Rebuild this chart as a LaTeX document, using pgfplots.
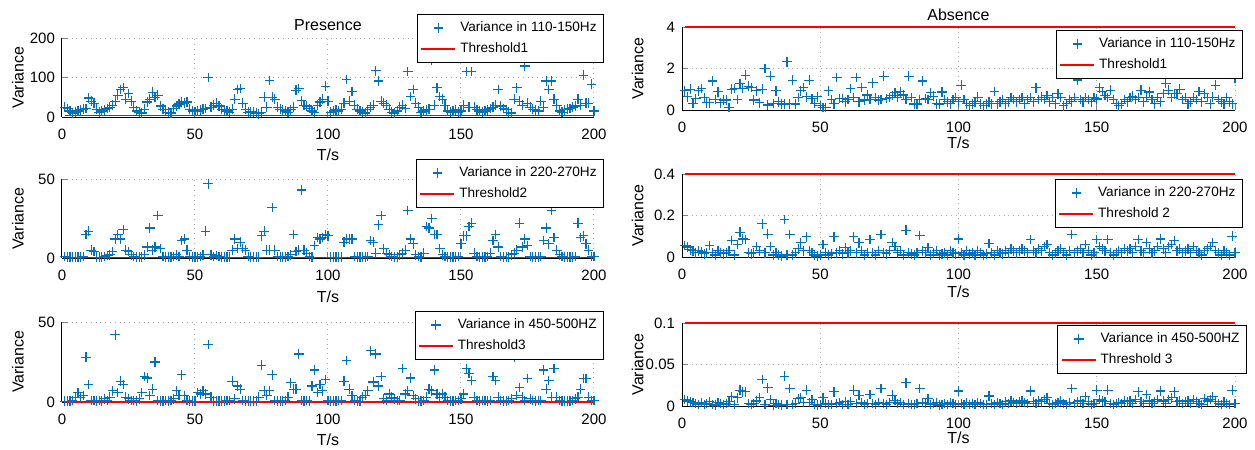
\documentclass[border=0pt]{standalone}
\usepackage{fontspec}
\setmainfont{Liberation Sans}
\usepackage{xcolor}
\usepackage{pgfplots}
\usepackage{pgfplotstable}
\pgfplotsset{compat=1.18}

\definecolor{matblue}{RGB}{0,114,189}
\definecolor{gridc}{RGB}{170,170,170}

% presence, 110-150Hz
\pgfplotstableread[row sep=\\]{y\\
25\\ 22\\ 15\\ 10\\ 12\\ 15\\ 18\\ 20\\ 22\\ 48\\ 40\\ 35\\ 20\\ 12\\ 15\\ 18\\ 22\\ 25\\ 30\\ 40\\
55\\ 70\\ 75\\ 45\\ 60\\ 40\\ 25\\ 15\\ 12\\ 10\\ 20\\ 38\\ 45\\ 63\\ 50\\ 55\\ 28\\ 20\\ 18\\ 12\\
10\\ 22\\ 28\\ 33\\ 38\\ 35\\ 38\\ 20\\ 15\\ 14\\ 15\\ 18\\ 20\\ 22\\ 100\\ 25\\ 30\\ 35\\ 28\\ 20\\
18\\ 15\\ 12\\ 20\\ 45\\ 70\\ 72\\ 35\\ 20\\ 12\\ 13\\ 12\\ 10\\ 8\\ 12\\ 50\\ 25\\ 92\\ 50\\ 45\\
25\\ 20\\ 18\\ 15\\ 12\\ 18\\ 25\\ 68\\ 72\\ 42\\ 30\\ 28\\ 22\\ 15\\ 12\\ 30\\ 38\\ 45\\ 78\\ 40\\
12\\ 15\\ 18\\ 15\\ 20\\ 35\\ 95\\ 40\\ 65\\ 30\\ 20\\ 15\\ 12\\ 10\\ 18\\ 25\\ 30\\ 117\\ 91\\ 40\\
35\\ 30\\ 20\\ 12\\ 10\\ 15\\ 25\\ 30\\ 22\\ 115\\ 52\\ 70\\ 35\\ 25\\ 12\\ 15\\ 18\\ 20\\ 145\\ 30\\
74\\ 52\\ 45\\ 30\\ 15\\ 12\\ 15\\ 18\\ 12\\ 15\\ 30\\ 115\\ 25\\ 115\\ 25\\ 18\\ 15\\ 12\\ 15\\ 18\\
22\\ 25\\ 30\\ 70\\ 28\\ 22\\ 18\\ 12\\ 10\\ 45\\ 74\\ 40\\ 30\\ 129\\ 35\\ 25\\ 20\\ 18\\ 15\\ 40\\
25\\ 91\\ 70\\ 91\\ 45\\ 30\\ 15\\ 12\\ 18\\ 20\\ 22\\ 25\\ 28\\ 45\\ 30\\ 106\\ 35\\ 35\\ 83\\ 15\\
}\tabLA

% presence, 220-270Hz
\pgfplotstableread[row sep=\\]{y\\
1\\ 0.5\\ 0.5\\ 0.5\\ 0.5\\ 0.5\\ 0.5\\ 1\\ 15\\ 17\\ 5\\ 4\\ 0.5\\ 0.5\\ 0.5\\ 1\\ 1.5\\ 2\\ 4\\ 12\\
15\\ 12\\ 18\\ 5\\ 4\\ 2\\ 1\\ 0.5\\ 0.5\\ 0.5\\ 2\\ 7\\ 19\\ 5\\ 7\\ 27\\ 6\\ 1\\ 0.5\\ 0.5\\
0.5\\ 1\\ 2\\ 1\\ 11\\ 12\\ 5\\ 1\\ 0.5\\ 0.5\\ 0.5\\ 1\\ 2\\ 17\\ 47\\ 2\\ 1\\ 1.5\\ 1\\ 0.5\\
0.5\\ 0.5\\ 0.5\\ 5\\ 12\\ 6\\ 10\\ 6\\ 5\\ 1\\ 0.5\\ 0.5\\ 0.5\\ 0.5\\ 14\\ 17\\ 5\\ 5\\ 32\\ 5\\
1\\ 0.5\\ 0.5\\ 0.5\\ 1\\ 2\\ 15\\ 4\\ 5\\ 43\\ 5\\ 3\\ 1\\ 0.5\\ 8\\ 13\\ 12\\ 13\\ 15\\ 14\\
0.5\\ 0.5\\ 0.5\\ 0.5\\ 0.5\\ 10\\ 12\\ 12\\ 12\\ 1\\ 0.5\\ 0.5\\ 0.5\\ 0.5\\ 1\\ 11\\ 10\\ 3\\ 21\\ 27\\
6\\ 3\\ 2\\ 1\\ 0.5\\ 0.5\\ 2\\ 3\\ 5\\ 30\\ 12\\ 9\\ 2\\ 1\\ 0.5\\ 3\\ 20\\ 19\\ 25\\ 15\\
15\\ 6\\ 2\\ 1\\ 0.5\\ 0.5\\ 0.5\\ 0.5\\ 1\\ 9\\ 14\\ 14\\ 20\\ 22\\ 3\\ 1\\ 0.5\\ 0.5\\ 0.5\\ 1\\
3\\ 11\\ 15\\ 7\\ 1\\ 0.5\\ 0.5\\ 0.5\\ 2\\ 3\\ 5\\ 22\\ 7\\ 12\\ 8\\ 1\\ 0.5\\ 0.5\\ 0.5\\ 1\\
11\\ 19\\ 9\\ 30\\ 13\\ 5\\ 2\\ 1\\ 0.5\\ 0.5\\ 0.5\\ 0.5\\ 1\\ 22\\ 13\\ 14\\ 9\\ 5\\ 1\\ 1\\
}\tabLB

% presence, 450-500HZ
\pgfplotstableread[row sep=\\]{y\\
0.5\\ 0.5\\ 0.5\\ 1\\ 3\\ 6\\ 3\\ 4\\ 28\\ 11\\ 1\\ 1\\ 0.5\\ 1\\ 0.5\\ 2\\ 1\\ 3\\ 7\\ 42\\
6\\ 13\\ 11\\ 3\\ 2\\ 1\\ 1\\ 0.5\\ 2\\ 6\\ 16\\ 15\\ 4\\ 8\\ 25\\ 1\\ 0.5\\ 0.5\\ 1\\ 0.5\\
1\\ 2\\ 7\\ 4\\ 17\\ 4\\ 1\\ 0.5\\ 0.5\\ 0.5\\ 6\\ 5\\ 7\\ 5\\ 36\\ 3\\ 0.5\\ 0.5\\ 0.5\\ 0.5\\
0.5\\ 1\\ 1\\ 13\\ 2\\ 10\\ 8\\ 1\\ 0.5\\ 0.5\\ 0.5\\ 0.5\\ 0.5\\ 3\\ 23\\ 7\\ 4\\ 7\\ 17\\ 1\\
0.5\\ 0.5\\ 0.5\\ 1\\ 3\\ 12\\ 8\\ 8\\ 30\\ 1\\ 0.5\\ 1\\ 0.5\\ 10\\ 20\\ 6\\ 11\\ 7\\ 14\\ 1\\
0.5\\ 0.5\\ 0.5\\ 1\\ 1\\ 13\\ 26\\ 8\\ 4\\ 1\\ 0.5\\ 0.5\\ 3\\ 4\\ 7\\ 32\\ 12.5\\ 30\\ 10\\ 16\\
2\\ 1\\ 5\\ 3\\ 2\\ 1\\ 1\\ 21\\ 5\\ 7\\ 15\\ 4\\ 2\\ 0.5\\ 0.5\\ 1\\ 3\\ 8\\ 7\\ 20\\
5\\ 3\\ 5\\ 3\\ 1\\ 0.5\\ 0.5\\ 1\\ 1\\ 2\\ 5\\ 21\\ 18\\ 13.5\\ 3\\ 1\\ 0.5\\ 1\\ 1\\ 0.5\\
1\\ 16\\ 13.5\\ 3\\ 1\\ 0.5\\ 0.5\\ 1\\ 2\\ 28\\ 4\\ 9\\ 3\\ 1\\ 14.6\\ 2\\ 1\\ 0.5\\ 1\\ 1\\
20\\ 8\\ 13.5\\ 3\\ 21\\ 3\\ 1\\ 0.5\\ 0.5\\ 0.5\\ 0.5\\ 1\\ 2\\ 3\\ 8\\ 14.6\\ 14.6\\ 3\\ 1\\ 1\\
}\tabLC

% absence, 110-150Hz
\pgfplotstableread[row sep=\\]{y\\
0.93\\ 0.64\\ 1.0\\ 0.32\\ 0.56\\ 0.93\\ 1.04\\ 0.6\\ 0.35\\ 0.35\\ 1.4\\ 0.5\\ 0.88\\ 0.35\\ 0.48\\ 0.48\\ 0.13\\ 1.0\\ 1.04\\ 0.5\\
1.28\\ 1.04\\ 1.68\\ 1.15\\ 1.09\\ 0.48\\ 0.93\\ 0.35\\ 1.0\\ 2.0\\ 0.24\\ 1.63\\ 0.32\\ 0.93\\ 0.4\\ 0.29\\ 0.29\\ 2.32\\ 0.3\\ 1.44\\
0.29\\ 0.6\\ 0.93\\ 1.09\\ 0.64\\ 1.44\\ 0.56\\ 0.32\\ 0.64\\ 0.2\\ 0.13\\ 0.13\\ 0.93\\ 0.51\\ 0.3\\ 1.57\\ 0.56\\ 0.56\\ 0.4\\ 0.51\\
1.04\\ 0.6\\ 1.57\\ 0.4\\ 1.09\\ 0.48\\ 0.72\\ 0.5\\ 1.31\\ 0.6\\ 0.48\\ 0.5\\ 1.63\\ 0.56\\ 0.6\\ 0.7\\ 0.83\\ 0.6\\ 0.88\\ 0.72\\
0.5\\ 1.63\\ 0.6\\ 0.29\\ 0.29\\ 0.5\\ 1.4\\ 0.56\\ 0.5\\ 0.83\\ 0.67\\ 0.3\\ 0.29\\ 0.87\\ 0.5\\ 0.4\\ 0.3\\ 0.5\\ 0.6\\ 0.4\\
1.2\\ 0.5\\ 0.3\\ 0.2\\ 0.3\\ 0.4\\ 0.62\\ 0.3\\ 0.2\\ 0.3\\ 0.4\\ 0.3\\ 0.9\\ 0.3\\ 0.4\\ 0.5\\ 0.3\\ 0.4\\ 0.6\\ 0.5\\
0.4\\ 0.5\\ 0.6\\ 0.3\\ 0.5\\ 0.6\\ 0.4\\ 1.07\\ 0.5\\ 0.62\\ 0.5\\ 0.7\\ 0.4\\ 0.6\\ 0.3\\ 0.78\\ 0.6\\ 0.2\\ 0.3\\ 0.5\\
0.4\\ 0.6\\ 1.45\\ 0.5\\ 0.4\\ 0.6\\ 0.5\\ 0.4\\ 0.6\\ 0.53\\ 1.07\\ 0.9\\ 0.7\\ 0.6\\ 0.95\\ 0.5\\ 0.3\\ 0.2\\ 0.3\\ 0.5\\
0.4\\ 0.6\\ 0.67\\ 0.5\\ 0.6\\ 0.95\\ 0.4\\ 0.6\\ 0.87\\ 0.5\\ 0.3\\ 0.6\\ 0.4\\ 0.8\\ 1.28\\ 0.95\\ 0.6\\ 0.78\\ 0.78\\ 1.0\\
0.5\\ 0.6\\ 0.3\\ 0.4\\ 0.6\\ 0.5\\ 0.9\\ 0.4\\ 0.78\\ 0.6\\ 0.3\\ 0.62\\ 1.2\\ 0.5\\ 0.4\\ 0.3\\ 0.6\\ 0.4\\ 0.3\\ 1.53\\
}\tabRA

% absence, 220-270Hz
\pgfplotstableread[row sep=\\]{y\\
0.056\\ 0.048\\ 0.035\\ 0.03\\ 0.02\\ 0.03\\ 0.025\\ 0.015\\ 0.02\\ 0.055\\ 0.02\\ 0.01\\ 0.03\\ 0.02\\ 0.015\\ 0.02\\ 0.03\\ 0.08\\ 0.01\\ 0.06\\
0.12\\ 0.087\\ 0.084\\ 0.02\\ 0.015\\ 0.02\\ 0.05\\ 0.03\\ 0.16\\ 0.02\\ 0.11\\ 0.05\\ 0.01\\ 0.02\\ 0.01\\ 0.005\\ 0.18\\ 0.01\\ 0.108\\ 0.01\\
0.02\\ 0.04\\ 0.068\\ 0.03\\ 0.097\\ 0.03\\ 0.02\\ 0.01\\ 0.005\\ 0.01\\ 0.06\\ 0.02\\ 0.01\\ 0.015\\ 0.097\\ 0.02\\ 0.03\\ 0.015\\ 0.044\\ 0.02\\
0.03\\ 0.097\\ 0.02\\ 0.068\\ 0.03\\ 0.01\\ 0.02\\ 0.084\\ 0.02\\ 0.01\\ 0.03\\ 0.108\\ 0.02\\ 0.015\\ 0.03\\ 0.07\\ 0.05\\ 0.02\\ 0.03\\ 0.01\\
0.129\\ 0.02\\ 0.015\\ 0.01\\ 0.02\\ 0.103\\ 0.03\\ 0.02\\ 0.044\\ 0.01\\ 0.02\\ 0.03\\ 0.01\\ 0.015\\ 0.02\\ 0.01\\ 0.03\\ 0.02\\ 0.015\\ 0.087\\
0.02\\ 0.01\\ 0.03\\ 0.015\\ 0.02\\ 0.01\\ 0.03\\ 0.02\\ 0.01\\ 0.015\\ 0.065\\ 0.02\\ 0.01\\ 0.03\\ 0.02\\ 0.015\\ 0.03\\ 0.02\\ 0.04\\ 0.03\\
0.02\\ 0.03\\ 0.04\\ 0.03\\ 0.02\\ 0.084\\ 0.03\\ 0.02\\ 0.04\\ 0.03\\ 0.05\\ 0.06\\ 0.02\\ 0.01\\ 0.02\\ 0.03\\ 0.04\\ 0.02\\ 0.01\\ 0.03\\
0.108\\ 0.02\\ 0.03\\ 0.04\\ 0.02\\ 0.06\\ 0.03\\ 0.01\\ 0.02\\ 0.084\\ 0.05\\ 0.04\\ 0.03\\ 0.084\\ 0.02\\ 0.01\\ 0.02\\ 0.03\\ 0.02\\ 0.04\\
0.03\\ 0.04\\ 0.02\\ 0.05\\ 0.084\\ 0.03\\ 0.02\\ 0.07\\ 0.04\\ 0.02\\ 0.03\\ 0.05\\ 0.087\\ 0.04\\ 0.02\\ 0.05\\ 0.06\\ 0.08\\ 0.03\\ 0.04\\
0.02\\ 0.03\\ 0.04\\ 0.02\\ 0.05\\ 0.03\\ 0.02\\ 0.01\\ 0.03\\ 0.04\\ 0.05\\ 0.07\\ 0.03\\ 0.02\\ 0.01\\ 0.03\\ 0.02\\ 0.01\\ 0.1\\ 0.02\\
}\tabRB

% absence, 450-500HZ
\pgfplotstableread[row sep=\\]{y\\
0.008\\ 0.006\\ 0.005\\ 0.004\\ 0.003\\ 0.002\\ 0.004\\ 0.002\\ 0.003\\ 0.005\\ 0.002\\ 0.001\\ 0.004\\ 0.003\\ 0.002\\ 0.003\\ 0.005\\ 0.011\\ 0.002\\ 0.01\\
0.019\\ 0.017\\ 0.017\\ 0.003\\ 0.002\\ 0.003\\ 0.006\\ 0.01\\ 0.032\\ 0.002\\ 0.022\\ 0.008\\ 0.001\\ 0.003\\ 0.002\\ 0.001\\ 0.036\\ 0.002\\ 0.021\\ 0.002\\
0.003\\ 0.009\\ 0.01\\ 0.004\\ 0.019\\ 0.004\\ 0.008\\ 0.002\\ 0.001\\ 0.002\\ 0.01\\ 0.003\\ 0.002\\ 0.002\\ 0.017\\ 0.003\\ 0.004\\ 0.002\\ 0.005\\ 0.002\\
0.005\\ 0.019\\ 0.003\\ 0.013\\ 0.004\\ 0.002\\ 0.003\\ 0.014\\ 0.003\\ 0.002\\ 0.004\\ 0.021\\ 0.003\\ 0.002\\ 0.004\\ 0.013\\ 0.007\\ 0.003\\ 0.004\\ 0.002\\
0.028\\ 0.003\\ 0.002\\ 0.002\\ 0.003\\ 0.021\\ 0.004\\ 0.003\\ 0.009\\ 0.002\\ 0.003\\ 0.004\\ 0.001\\ 0.002\\ 0.003\\ 0.002\\ 0.004\\ 0.003\\ 0.002\\ 0.018\\
0.003\\ 0.002\\ 0.004\\ 0.002\\ 0.003\\ 0.002\\ 0.004\\ 0.003\\ 0.002\\ 0.002\\ 0.012\\ 0.003\\ 0.002\\ 0.004\\ 0.003\\ 0.002\\ 0.005\\ 0.003\\ 0.006\\ 0.004\\
0.003\\ 0.005\\ 0.006\\ 0.004\\ 0.003\\ 0.018\\ 0.005\\ 0.003\\ 0.006\\ 0.005\\ 0.008\\ 0.01\\ 0.003\\ 0.002\\ 0.003\\ 0.004\\ 0.006\\ 0.003\\ 0.002\\ 0.004\\
0.021\\ 0.003\\ 0.005\\ 0.006\\ 0.003\\ 0.011\\ 0.005\\ 0.002\\ 0.003\\ 0.019\\ 0.008\\ 0.006\\ 0.005\\ 0.019\\ 0.003\\ 0.002\\ 0.003\\ 0.004\\ 0.003\\ 0.006\\
0.005\\ 0.006\\ 0.003\\ 0.008\\ 0.017\\ 0.005\\ 0.003\\ 0.014\\ 0.006\\ 0.003\\ 0.005\\ 0.008\\ 0.018\\ 0.006\\ 0.003\\ 0.008\\ 0.01\\ 0.017\\ 0.005\\ 0.006\\
0.003\\ 0.005\\ 0.006\\ 0.003\\ 0.008\\ 0.005\\ 0.003\\ 0.002\\ 0.009\\ 0.006\\ 0.008\\ 0.011\\ 0.005\\ 0.003\\ 0.002\\ 0.005\\ 0.003\\ 0.002\\ 0.019\\ 0.003\\
}\tabRC

\pgfplotsset{
  every axis title shift=0pt,
  panel/.style={
    scale only axis,
    anchor=south west,
    xmin=0, xmax=200,
    xtick={0,50,100,150,200},
    axis x line*=bottom,
    axis y line*=left,
    axis line style={-, line width=0.5pt},
    tick align=inside,
    major tick length=3pt,
    tick style={line width=0.5pt},
    grid=major,
    grid style={dotted, gridc, line width=0.5pt},
    ticklabel style={font=\fontsize{7.5}{8}\selectfont},
    xticklabel style={yshift=-2.5pt},
    /pgf/number format/assume math mode=true,
    label style={font=\fontsize{8}{9}\selectfont},
    title style={font=\fontsize{8}{9}\selectfont},
    xlabel={T/s},
    ylabel={Variance},
    legend cell align=left,
    legend style={font=\fontsize{6.8}{8}\selectfont, line width=0.5pt,
      inner sep=1.5pt, anchor=north east},
    clip=false,
  },
  leftp/.style={panel, width=266pt,
    ylabel style={at={(axis description cs:-0.083,0.5)}, anchor=center}},
  rightp/.style={panel, width=276.5pt,
    ylabel style={at={(axis description cs:-0.080,0.5)}, anchor=center}},
  pts/.style={only marks, mark=+, mark size=2.4pt, color=matblue,
    mark options={line width=0.6pt}},
  thr/.style={color=red, line width=0.8pt},
}

\begin{document}
\begin{tikzpicture}
\useasboundingbox (0,0) rectangle (627.5pt,-225pt);

% ---- left column: presence ----
\begin{axis}[leftp, at={(31pt,-58.5pt)}, height=39.5pt,
  ymin=0, ymax=200, ytick={0,100,200},
  title={Presence}, title style={at={(axis description cs:0.5,1.165)}, anchor=center},
  xlabel style={at={(axis description cs:0.5,-0.48)}, anchor=center},
  legend style={at={(axis description cs:1.019,1.304)}}]
\addplot[pts] table[x expr=\coordindex+1, y=y] {\tabLA};
\addplot[thr] coordinates {(1,4) (200,4)};
\legend{Variance in 110-150Hz, Threshold1}
\end{axis}

\begin{axis}[leftp, at={(31pt,-129pt)}, height=39.5pt,
  ymin=0, ymax=50, ytick={0,50},
  xlabel style={at={(axis description cs:0.5,-0.49)}, anchor=center},
  legend style={at={(axis description cs:1.019,1.253)}}]
\addplot[pts] table[x expr=\coordindex+1, y=y] {\tabLB};
\addplot[thr] coordinates {(1,0.4) (200,0.4)};
\legend{Variance in 220-270Hz, Threshold2}
\end{axis}

\begin{axis}[leftp, at={(31pt,-201pt)}, height=40pt,
  ymin=0, ymax=50, ytick={0,50},
  xlabel style={at={(axis description cs:0.5,-0.475)}, anchor=center},
  legend style={at={(axis description cs:1.019,1.1375)}}]
\addplot[pts] table[x expr=\coordindex+1, y=y] {\tabLC};
\addplot[thr] coordinates {(1,0.1) (200,0.1)};
\legend{Variance in 450-500HZ, Threshold3}
\end{axis}

% ---- right column: absence ----
\begin{axis}[rightp, at={(341pt,-55pt)}, height=41.5pt,
  ymin=0, ymax=4, ytick={0,2,4},
  title={Absence}, title style={at={(axis description cs:0.5,1.145)}, anchor=center},
  xlabel style={at={(axis description cs:0.5,-0.40)}, anchor=center},
  legend style={at={(axis description cs:1.0145,0.964)}}]
\addplot[pts] table[x expr=\coordindex+1, y=y] {\tabRA};
\addplot[thr] coordinates {(1,4) (200,4)};
\legend{Variance in 110-150Hz, Threshold1}
\end{axis}

\begin{axis}[rightp, at={(341pt,-128.5pt)}, height=41.5pt,
  ymin=0, ymax=0.4, ytick={0,0.2,0.4},
  xlabel style={at={(axis description cs:0.5,-0.42)}, anchor=center},
  legend style={at={(axis description cs:1.0145,0.940)}}]
\addplot[pts] table[x expr=\coordindex+1, y=y] {\tabRB};
\addplot[thr] coordinates {(1,0.4) (200,0.4)};
\legend{Variance in 220-270Hz, Threshold 2}
\end{axis}

\begin{axis}[rightp, at={(341pt,-203pt)}, height=41.5pt,
  ymin=0, ymax=0.1, ytick={0,0.05,0.1},
  yticklabel style={/pgf/number format/fixed},
  xlabel style={at={(axis description cs:0.5,-0.386)}, anchor=center},
  legend style={at={(axis description cs:1.0217,0.976)}}]
\addplot[pts] table[x expr=\coordindex+1, y=y] {\tabRC};
\addplot[thr] coordinates {(1,0.1) (200,0.1)};
\legend{Variance in 450-500HZ, Threshold 3}
\end{axis}
\end{tikzpicture}
\end{document}
